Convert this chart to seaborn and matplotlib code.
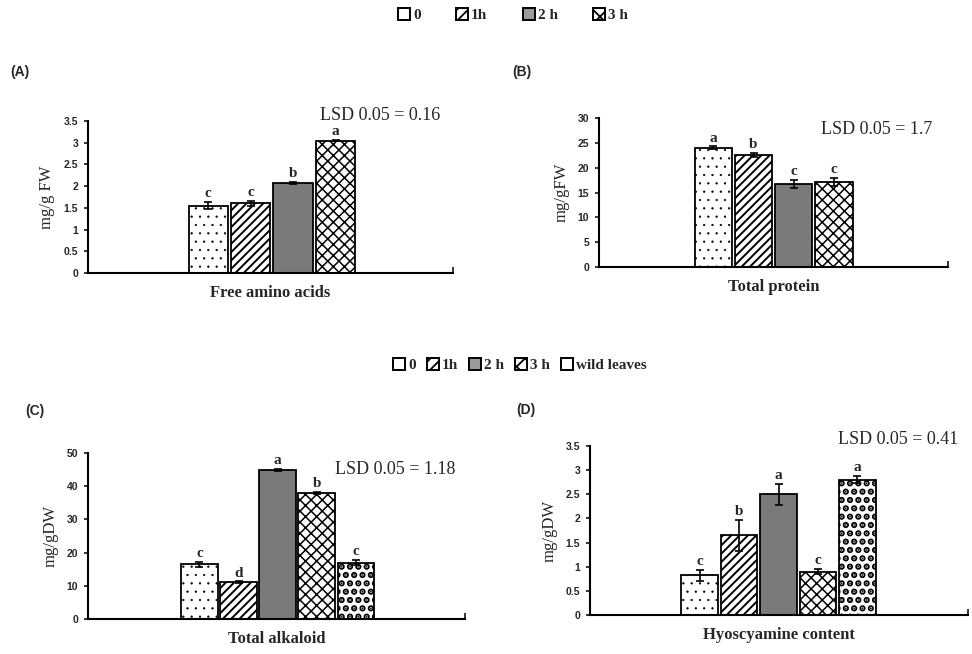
import matplotlib
matplotlib.use("Agg")
import matplotlib.pyplot as plt
import matplotlib.patches as mpatches
import seaborn as sns
import pandas as pd

# ---- data ----
treat4 = ["0", "1h", "2 h", "3 h"]
treat5 = ["0", "1h", "2 h", "3 h", "wild leaves"]

amino_vals = [1.55, 1.60, 2.07, 3.05]
amino_err = [0.08, 0.06, 0.02, 0.02]
amino_letters = ["c", "c", "b", "a"]

protein_vals = [24.0, 22.5, 16.8, 17.2]
protein_err = [0.3, 0.4, 0.8, 0.8]
protein_letters = ["a", "b", "c", "c"]

alk_vals = [16.5, 11.0, 44.8, 38.0, 17.0]
alk_err = [0.8, 0.3, 0.3, 0.3, 0.8]
alk_letters = ["c", "d", "a", "b", "c"]

hyo_vals = [0.82, 1.65, 2.50, 0.90, 2.80]
hyo_err = [0.12, 0.32, 0.22, 0.05, 0.07]
hyo_letters = ["c", "b", "a", "c", "a"]

sns.set_theme(style="white")
plt.rcParams["hatch.linewidth"] = 1.3
SERIF = ["Liberation Serif", "DejaVu Serif"]
SANS = ["Liberation Sans", "DejaVu Sans"]

fills = {"0": "white", "1h": "white", "2 h": "#7a7a7a", "3 h": "white", "wild leaves": "white"}
hatches = {"0": "..", "1h": "////", "2 h": "", "3 h": "xxx", "wild leaves": ".."}
hatch_lw = {"0": 0.4, "1h": 1.4, "2 h": 1.0, "3 h": 1.1, "wild leaves": 3.2}

fig = plt.figure(figsize=(9.72, 6.54), dpi=100)


def panel(rect, cats, vals, errs, letters, xlabel, ylabel, ylim, yticks,
          yticklabels, xlim, lsd, lsd_xy, tag, tag_xy):
    ax = fig.add_axes(rect)
    df = pd.DataFrame({"group": [xlabel] * len(cats), "treat": cats, "val": vals})
    sns.barplot(data=df, x="group", y="val", hue="treat", hue_order=cats,
                palette=[fills[c] for c in cats], width=0.8, gap=0.07,
                edgecolor="black", linewidth=1.3, errorbar=None, legend=False,
                ax=ax, saturation=1)
    bars = [p for p in ax.patches if p.get_height() > 0]
    for p, c, e, l in zip(bars, cats, errs, letters):
        p.set_hatch(hatches[c])
        if hasattr(p, "set_hatch_linewidth"):
            p.set_hatch_linewidth(hatch_lw[c])
        cx = p.get_x() + p.get_width() / 2
        h = p.get_height()
        ax.errorbar(cx, h, yerr=e, color="black", capsize=3, elinewidth=1.2,
                    capthick=1.2, fmt="none")
        ax.text(cx, h + e + ylim[1] * 0.012, l, ha="center", va="bottom",
                fontsize=11, fontweight="bold", family=SERIF)
    ax.set_xlim(*xlim)
    ax.set_ylim(*ylim)
    ax.set_yticks(yticks)
    ax.set_yticklabels(yticklabels, fontsize=7.5, fontweight="bold", family=SANS)
    ax.set_xticks(list(xlim))
    ax.set_xticklabels(["", ""])
    ax.tick_params(axis="x", direction="in", length=4, width=1.3, bottom=True)
    ax.tick_params(axis="y", direction="out", length=3, width=1.3, left=True, pad=4)
    ax.set_xlabel(xlabel, fontsize=12, fontweight="bold", family=SERIF, labelpad=5)
    ax.set_ylabel(ylabel, fontsize=12, family=SERIF, labelpad=6)
    sns.despine(ax=ax)
    for s in ("left", "bottom"):
        ax.spines[s].set_linewidth(1.5)
        ax.spines[s].set_color("black")
    fig.text(lsd_xy[0], lsd_xy[1], lsd, fontsize=13, family=SERIF, ha="left", va="center")
    fig.text(tag_xy[0], tag_xy[1], tag, fontsize=10, fontweight="bold", family=SANS,
             ha="left", va="center")
    return ax


panel([0.0905, 0.5826, 0.3755, 0.2324], treat4, amino_vals, amino_err, amino_letters,
      "Free amino acids", "mg/g FW", (0, 3.5), [0, 0.5, 1, 1.5, 2, 2.5, 3, 3.5],
      ["0", "0.5", "1", "1.5", "2", "2.5", "3", "3.5"], (-0.867, 0.853),
      "LSD 0.05 = 0.16", (320 / 972, 1 - 115 / 654), "(A)", (10 / 972, 1 - 72 / 654))

panel([0.6163, 0.5917, 0.359, 0.2279], treat4, protein_vals, protein_err, protein_letters,
      "Total protein", "mg/gFW", (0, 30), [0, 5, 10, 15, 20, 25, 30],
      ["0", "5", "10", "15", "20", "25", "30"], (-0.868, 0.867),
      "LSD 0.05 = 1.7", (821 / 972, 1 - 130 / 654), "(B)", (512 / 972, 1 - 72 / 654))

panel([0.0905, 0.0535, 0.3879, 0.2538], treat5, alk_vals, alk_err, alk_letters,
      "Total alkaloid", "mg/gDW", (0, 50), [0, 10, 20, 30, 40, 50],
      ["0", "10", "20", "30", "40", "50"], (-0.777, 0.768),
      "LSD 0.05 = 1.18", (335 / 972, 1 - 470 / 654), "(C)", (25 / 972, 1 - 411 / 654))

panel([0.607, 0.0596, 0.3889, 0.2584], treat5, hyo_vals, hyo_err, hyo_letters,
      "Hyoscyamine content", "mg/gDW", (0, 3.5), [0, 0.5, 1, 1.5, 2, 2.5, 3, 3.5],
      ["0", "0.5", "1", "1.5", "2", "2.5", "3", "3.5"], (-0.766, 0.77),
      "LSD 0.05 = 0.41", (838 / 972, 1 - 440 / 654), "(D)", (516 / 972, 1 - 410 / 654))


leg_hatch = {"0": "", "1h": "///", "2 h": "", "3 h": "xx", "wild leaves": ""}


def legend_handles(cats):
    return [mpatches.Patch(facecolor=("#9a9a9a" if c == "2 h" else "white"),
                           edgecolor="black", hatch=leg_hatch[c], linewidth=1.4,
                           label=c) for c in cats]


leg_font = {"family": SERIF, "weight": "bold", "size": 11}
fig.legend(handles=legend_handles(treat4), loc="center", bbox_to_anchor=(513 / 972, 1 - 15 / 654),
           ncol=4, frameon=False, prop=leg_font, handlelength=0.8, handleheight=0.8,
           handletextpad=0.2, columnspacing=2.3)
fig.legend(handles=legend_handles(treat5), loc="center", bbox_to_anchor=(520 / 972, 1 - 365 / 654),
           ncol=5, frameon=False, prop=leg_font, handlelength=0.8, handleheight=0.8,
           handletextpad=0.2, columnspacing=0.7)

fig.savefig("out.png", dpi=100)
